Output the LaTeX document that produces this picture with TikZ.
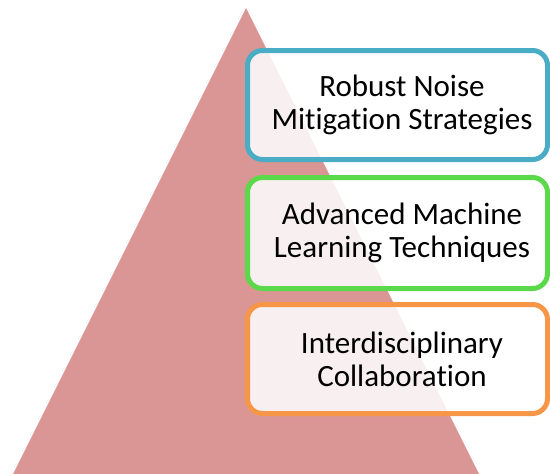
\documentclass[tikz,border=0pt]{standalone}
\usepackage{fontspec}
\setmainfont[Ligatures={NoCommon}]{Carlito}
\definecolor{pyramid}{HTML}{D99694}
\definecolor{pyramidpale}{HTML}{F8F0F0}
\definecolor{tierblue}{HTML}{4BACC6}
\definecolor{tiergreen}{HTML}{5CD94A}
\definecolor{tierorange}{HTML}{F79646}
\tikzset{
  tierframe/.style={draw=#1, line width=5pt, rounded corners=15pt},
  tiertext/.style={align=center, font=\fontsize{31}{33}\selectfont, text=black}
}
% one tier: white panel, pale pyramid showing through, coloured frame
\newcommand{\tierpanel}[3]{%
  \fill[white, rounded corners=15pt] #1 rectangle #2;
  \begin{scope}
    \clip[rounded corners=15pt] #1 rectangle #2;
    \fill[pyramidpale] (246,8) -- (479,474) -- (13,474) -- cycle;
  \end{scope}
  \draw[tierframe=#3] #1 rectangle #2;
}
\begin{document}
\begin{tikzpicture}[x=1pt, y=-1pt]
  \useasboundingbox (0,0) rectangle (550,474);
  % pyramid
  \fill[pyramid] (246,8) -- (479,474) -- (13,474) -- cycle;
  % tier boxes
  \tierpanel{(247.5,50.5)}{(547.5,159.5)}{tierblue}
  \tierpanel{(247.5,177.5)}{(547.5,288.5)}{tiergreen}
  \tierpanel{(247.5,304.5)}{(547.5,413.5)}{tierorange}
  % labels
  \node[tiertext] (t1) at (402,105) {Robust Noise\\Mitigation Strategies};
  \node[tiertext] (t2) at (402,233) {Advanced Machine\\Learning Techniques};
  \node[tiertext] (t3) at (402,359) {Interdisciplinary\\Collaboration};
\end{tikzpicture}
\end{document}
